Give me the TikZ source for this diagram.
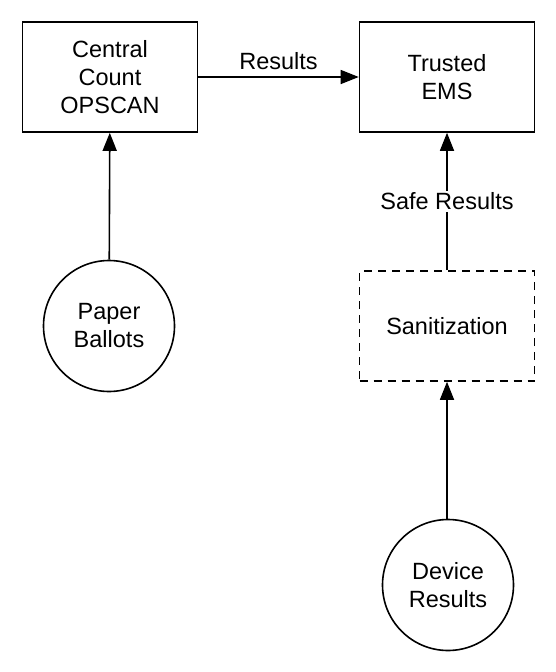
\documentclass[tikz,border=0pt]{standalone}
\usepackage{fontspec}
\setmainfont{Liberation Sans}
\usepackage{tikz}
\usetikzlibrary{positioning,arrows.meta}

\begin{document}
\begin{tikzpicture}[
    x=1pt, y=-1pt,
    font=\fontsize{23.5}{28}\selectfont,
    box/.style={rectangle, draw, line width=1.6pt, minimum width=175pt, minimum height=110pt, align=center},
    dashbox/.style={box, dash pattern=on 8pt off 6pt},
    source/.style={circle, draw, line width=1.6pt, minimum size=131pt, align=center, inner sep=0pt},
    arrow/.style={-{Triangle[length=18pt,width=14pt]}, line width=1.6pt},
    label/.style={fill=white, inner sep=2pt}
  ]
  \useasboundingbox (0,0) rectangle (556,672);

  % Boxes
  \node[box] (opscan) at (110,77) {Central\\Count\\OPSCAN};
  \node[box] (ems) at (447,77) {Trusted\\EMS};
  \node[dashbox] (sanit) at (447,326) {Sanitization};

  % Sources
  \node[source] (ballots) at (109,326) {Paper\\Ballots};
  \node[source] (device) at (448,585) {Device\\Results};

  % Arrows
  \draw[arrow] (opscan) -- node[above, inner sep=6pt] (reslabel) {Results} (ems);
  \draw[arrow] (ballots) -- (opscan);
  \draw[arrow] (sanit) -- node[label] (safelabel) {Safe Results} (ems);
  \draw[arrow] (device.north -| sanit.south) -- (sanit);
\end{tikzpicture}
\end{document}
